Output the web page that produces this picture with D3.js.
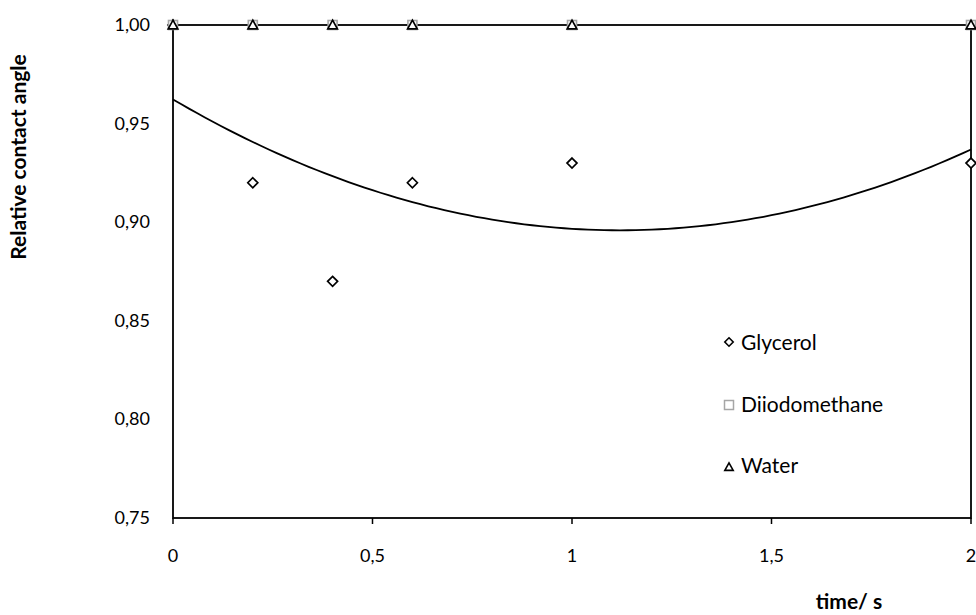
<!DOCTYPE html>
<html>
<head>
<meta charset="utf-8">
<script src="https://cdn.jsdelivr.net/npm/d3@7"></script>
<style>
  body { margin: 0; background: #fff; }
  text { font-family: Lato, "Open Sans", sans-serif; fill: #000; }
</style>
</head>
<body>
<svg id="chart" width="976" height="615"></svg>
<script>
// data
const times = [0, 0.2, 0.4, 0.6, 1, 2];
const glycerol = [1.00, 0.92, 0.87, 0.92, 0.93, 0.93];
const diiodomethane = [1.00, 1.00, 1.00, 1.00, 1.00, 1.00];
const water = [1.00, 1.00, 1.00, 1.00, 1.00, 1.00];
const xTicks = [0, 0.5, 1, 1.5, 2];
const yTicks = [0.75, 0.80, 0.85, 0.90, 0.95, 1.00];

const svg = d3.select('#chart');
const x = d3.scaleLinear().domain([0, 2]).range([173, 971]);
const y = d3.scaleLinear().domain([0.75, 1.0]).range([518, 25]);
const comma = v => d3.format('.2f')(v).replace('.', ',');
const commaX = v => String(v).replace('.', ',');

// plot frame
svg.append('rect')
  .attr('x', x(0)).attr('y', y(1))
  .attr('width', x(2) - x(0)).attr('height', y(0.75) - y(1))
  .attr('fill', 'none').attr('stroke', '#000').attr('stroke-width', 1.8);

// x ticks
svg.selectAll('.xtick').data(xTicks).join('line')
  .attr('x1', d => x(d)).attr('x2', d => x(d))
  .attr('y1', y(0.75)).attr('y2', y(0.75) + 6)
  .attr('stroke', '#000').attr('stroke-width', 1.5);
svg.selectAll('.xlab').data(xTicks).join('text')
  .attr('x', d => x(d)).attr('y', 562)
  .attr('text-anchor', 'middle').attr('font-size', 18)
  .text(commaX);

// y labels
svg.selectAll('.ylab').data(yTicks).join('text')
  .attr('x', 150).attr('y', d => y(d) + 6)
  .attr('text-anchor', 'end').attr('font-size', 18)
  .text(comma);

// axis titles
svg.append('text')
  .attr('x', 849).attr('y', 609)
  .attr('text-anchor', 'middle').attr('font-size', 21).attr('font-weight', 'bold')
  .text('time/ s');
svg.append('text')
  .attr('transform', 'translate(26,157) rotate(-90)')
  .attr('text-anchor', 'middle').attr('font-size', 21).attr('font-weight', 'bold')
  .text('Relative contact angle');

// 2nd order polynomial trendline for glycerol (least squares)
function polyFit(xs, ys) {
  const S = k => d3.sum(xs, v => Math.pow(v, k));
  const T = k => d3.sum(xs, (v, i) => Math.pow(v, k) * ys[i]);
  const A = [[S(0), S(1), S(2), T(0)], [S(1), S(2), S(3), T(1)], [S(2), S(3), S(4), T(2)]];
  for (let i = 0; i < 3; i++) {
    for (let j = i + 1; j < 3; j++) {
      const f = A[j][i] / A[i][i];
      for (let k = i; k < 4; k++) A[j][k] -= f * A[i][k];
    }
  }
  const c = [0, 0, 0];
  for (let i = 2; i >= 0; i--) {
    let s = A[i][3];
    for (let k = i + 1; k < 3; k++) s -= A[i][k] * c[k];
    c[i] = s / A[i][i];
  }
  return c;
}
const coef = polyFit(times, glycerol);
const trend = d3.range(0, 2.0001, 0.02).map(t => [t, coef[0] + coef[1] * t + coef[2] * t * t]);
svg.append('path')
  .attr('d', d3.line().x(d => x(d[0])).y(d => y(d[1]))(trend))
  .attr('fill', 'none').attr('stroke', '#000').attr('stroke-width', 1.8);

// markers
const diamond = (cx, cy, s) => `M${cx},${cy - s}L${cx + s},${cy}L${cx},${cy + s}L${cx - s},${cy}Z`;
const tri = (cx, cy, s) => `M${cx},${cy - s}L${cx + s},${cy + s * 0.8}L${cx - s},${cy + s * 0.8}Z`;

svg.selectAll('.gly').data(times).join('path')
  .attr('d', (d, i) => diamond(x(d), y(glycerol[i]), 5))
  .attr('fill', '#fff').attr('stroke', '#000').attr('stroke-width', 1.7);
svg.selectAll('.dii').data(times).join('rect')
  .attr('x', d => x(d) - 4.5).attr('y', (d, i) => y(diiodomethane[i]) - 4.5)
  .attr('width', 9).attr('height', 9)
  .attr('fill', '#fff').attr('stroke', '#a6a6a6').attr('stroke-width', 1.6);
svg.selectAll('.wat').data(times).join('path')
  .attr('d', (d, i) => tri(x(d), y(water[i]), 4.8))
  .attr('fill', '#fff').attr('stroke', '#000').attr('stroke-width', 1.7);

// legend
const legend = svg.append('g');
legend.append('path').attr('d', diamond(729, 342, 4.2))
  .attr('fill', '#fff').attr('stroke', '#000').attr('stroke-width', 1.6);
legend.append('rect').attr('x', 724.5).attr('y', 400.5).attr('width', 9).attr('height', 9)
  .attr('fill', '#fff').attr('stroke', '#a6a6a6').attr('stroke-width', 1.5);
legend.append('path').attr('d', tri(729, 467, 4.2))
  .attr('fill', '#fff').attr('stroke', '#000').attr('stroke-width', 1.6);
[['Glycerol', 350], ['Diiodomethane', 412], ['Water', 473]].forEach(([t, by]) => {
  legend.append('text').attr('x', 741).attr('y', by).attr('font-size', 21).text(t);
});
</script>
</body>
</html>
